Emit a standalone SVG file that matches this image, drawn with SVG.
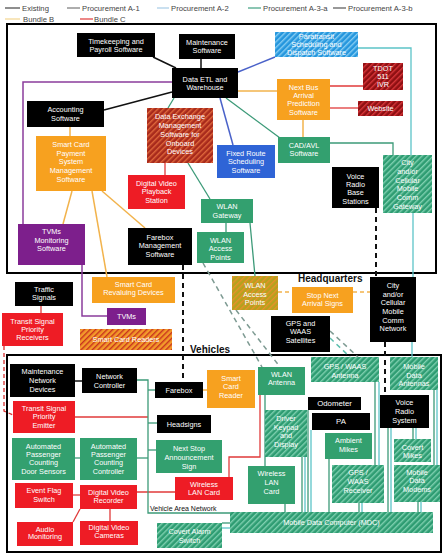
<svg xmlns="http://www.w3.org/2000/svg" width="444" height="555" viewBox="0 0 444 555">
<defs>
<pattern id="hT" width="4" height="4" patternUnits="userSpaceOnUse" patternTransform="rotate(45)"><rect width="4" height="4" fill="#2e9c72"/><rect width="1.4" height="4" fill="#7fd0b0"/></pattern>
<pattern id="hB" width="4" height="4" patternUnits="userSpaceOnUse" patternTransform="rotate(45)"><rect width="4" height="4" fill="#2596dd"/><rect width="1.4" height="4" fill="#86cdf3"/></pattern>
<pattern id="hR" width="4" height="4" patternUnits="userSpaceOnUse" patternTransform="rotate(45)"><rect width="4" height="4" fill="#8e0f12"/><rect width="1.4" height="4" fill="#d9363a"/></pattern>
<pattern id="hD" width="4" height="4" patternUnits="userSpaceOnUse" patternTransform="rotate(45)"><rect width="4" height="4" fill="#a82a1c"/><rect width="1.4" height="4" fill="#e0683c"/></pattern>
<pattern id="hY" width="4" height="4" patternUnits="userSpaceOnUse" patternTransform="rotate(45)"><rect width="4" height="4" fill="#b4a21e"/><rect width="1.4" height="4" fill="#e9902a"/></pattern>
<pattern id="hS" width="4" height="4" patternUnits="userSpaceOnUse" patternTransform="rotate(45)"><rect width="4" height="4" fill="#f39a2a"/><rect width="1.4" height="4" fill="#c8321e"/></pattern>
</defs>
<style>
.t{font-family:'Liberation Sans',Arial,sans-serif;font-size:7.3px;fill:#fff;text-anchor:middle}
.lg{font-family:'Liberation Sans',Arial,sans-serif;font-size:7.7px;fill:#444}
.hd{font-family:'Liberation Sans',Arial,sans-serif;font-size:10px;font-weight:bold;fill:#111}
.k{fill:#000}.o{fill:#f7a11f}.r{fill:#ee1c25}.g{fill:#33a06f}.b{fill:#2f64d6}.p{fill:#7d1f8c}
line,polyline{fill:none}
.ck{stroke:#111;stroke-width:1.5}
.cp{stroke:#8b3c9c;stroke-width:1.5}
.co{stroke:#f2b34c;stroke-width:1.5}
.cb{stroke:#4a62c9;stroke-width:1.5}
.cg{stroke:#3c9a78;stroke-width:1.3}
.cc{stroke:#5cc4c8;stroke-width:1.3}
.cr{stroke:#e03a3a;stroke-width:1.3}
.dk{stroke:#111;stroke-width:2;stroke-dasharray:5 4}
.dg{stroke:#7d9a92;stroke-width:1.5;stroke-dasharray:5 4}
.dt{stroke:#5cbfae;stroke-width:1.5;stroke-dasharray:5 4}
.do{stroke:#f2b34c;stroke-width:1.3;stroke-dasharray:4 3}
.dr{stroke:#d83030;stroke-width:1.3;stroke-dasharray:4 3}
</style>
<rect width="444" height="555" fill="#fff"/>
<g id="legend">
<line x1="5" y1="8" x2="20" y2="8" stroke="#444" stroke-width="1.2"/><text class="lg" x="22" y="10.5">Existing</text>
<line x1="67" y1="8" x2="80" y2="8" stroke="#777" stroke-width="1.2"/><text class="lg" x="82" y="10.5">Procurement A-1</text>
<line x1="157" y1="8" x2="169" y2="8" stroke="#a7cbe6" stroke-width="1.2"/><text class="lg" x="171" y="10.5">Procurement A-2</text>
<line x1="248" y1="8" x2="261" y2="8" stroke="#3f9f80" stroke-width="1.2"/><text class="lg" x="263" y="10.5">Procurement A-3-a</text>
<line x1="333" y1="8" x2="346" y2="8" stroke="#555" stroke-width="1.2"/><text class="lg" x="348" y="10.5">Procurement A-3-b</text>
<line x1="5" y1="19" x2="20" y2="19" stroke="#f3d58f" stroke-width="1.2"/><text class="lg" x="23" y="21.5">Bundle B</text>
<line x1="80" y1="19" x2="93" y2="19" stroke="#e03a3a" stroke-width="1.2"/><text class="lg" x="94" y="21.5">Bundle C</text>
</g>
<g id="frames">
<rect x="7" y="24" width="429" height="249" fill="none" stroke="#000" stroke-width="2"/>
<rect x="7" y="355" width="434" height="197" fill="none" stroke="#000" stroke-width="2"/>
<text class="hd" x="298" y="282">Headquarters</text>
<text class="hd" x="190" y="353">Vehicles</text>
</g>
<g id="connectors">
<line class="ck" x1="153" y1="57" x2="176" y2="68"/>
<line class="ck" x1="201" y1="59" x2="201" y2="68"/>
<line class="ck" x1="104" y1="110" x2="172" y2="92"/>
<line class="ck" x1="75" y1="381" x2="82" y2="381"/>
<line class="dk" x1="183" y1="265" x2="183" y2="382"/>
<line class="dk" x1="376" y1="208" x2="376" y2="277"/>
<line class="dk" x1="385" y1="342" x2="385" y2="395"/>
<polyline class="cp" points="172,82 23,82 23,224"/>
<polyline class="cp" points="82,265 82,316 107,316"/>
<line class="co" x1="70" y1="127" x2="70" y2="136"/>
<line class="co" x1="72" y1="191" x2="63" y2="224"/>
<line class="co" x1="92" y1="191" x2="107" y2="277"/>
<line class="co" x1="102" y1="191" x2="145" y2="228"/>
<line class="co" x1="238" y1="91" x2="277" y2="91"/>
<line class="co" x1="303" y1="120" x2="303" y2="137"/>
<line class="co" x1="203" y1="390" x2="207" y2="390"/>
<line class="do" x1="278" y1="292" x2="292" y2="292"/>
<line class="do" x1="353" y1="292" x2="370" y2="292"/>
<line class="cb" x1="238" y1="72" x2="275" y2="57"/>
<line class="cb" x1="220" y1="98" x2="233" y2="145"/>
<line class="cg" x1="226" y1="98" x2="280" y2="138"/>
<line class="cg" x1="174" y1="98" x2="168" y2="108"/>
<line class="cg" x1="188" y1="163" x2="210" y2="199"/>
<line class="cg" x1="226" y1="223" x2="226" y2="232"/>
<line class="cg" x1="250" y1="223" x2="255" y2="276"/>
<polyline class="cg" points="330,143 393,143 393,155"/>
<polyline class="cc" points="358,48 411,48 411,155"/>
<line class="cc" x1="413" y1="213" x2="413" y2="277"/>
<line class="cc" x1="412" y1="342" x2="412" y2="357"/>
<line class="cr" x1="330" y1="86" x2="363" y2="86"/>
<line class="cr" x1="330" y1="108" x2="358" y2="108"/>
<line class="cr" x1="165" y1="163" x2="165" y2="175"/>
<line class="cr" x1="41" y1="306" x2="41" y2="313"/>
<polyline class="dr" points="4,346 4,411 13,415"/>
<line class="cr" x1="75" y1="417" x2="148" y2="417"/>
<line class="cr" x1="73" y1="495" x2="80" y2="495"/>
<line class="cr" x1="137" y1="492" x2="175" y2="492"/>
<line class="cr" x1="80" y1="509" x2="73" y2="522"/>
<line class="cr" x1="110" y1="509" x2="110" y2="521"/>
<polyline class="cr" points="229,477 229,457 260,457 260,395"/>
<line class="dg" x1="203" y1="263" x2="262" y2="367"/>
<line class="dg" x1="236" y1="310" x2="280" y2="367"/>
<line class="dg" x1="330" y1="331" x2="358" y2="357"/>
<line class="dt" x1="330" y1="338" x2="350" y2="357"/>
<polyline class="cg" points="137,380 148,380 148,513 230,513"/>
<line class="cg" x1="148" y1="390" x2="155" y2="390"/>
<line class="cg" x1="148" y1="423" x2="157" y2="423"/>
<line class="cg" x1="148" y1="450" x2="156" y2="450"/>
<line class="cg" x1="75" y1="458" x2="80" y2="458"/>
<line class="cg" x1="137" y1="458" x2="148" y2="458"/>
<line class="cg" x1="222" y1="523" x2="230" y2="523"/>
<line class="cc" x1="222" y1="528" x2="230" y2="528"/>
<line class="cg" x1="265" y1="395" x2="265" y2="466"/>
<line class="cg" x1="285" y1="504" x2="285" y2="512"/>
<line class="cg" x1="302" y1="457" x2="302" y2="512"/>
<line class="cc" x1="305" y1="457" x2="305" y2="512"/>
<line class="cg" x1="308" y1="410" x2="308" y2="512"/>
<line class="cc" x1="311" y1="430" x2="311" y2="512"/>
<line class="cg" x1="329" y1="459" x2="329" y2="512"/>
<line class="cg" x1="359" y1="503" x2="359" y2="512"/>
<line class="cc" x1="362" y1="503" x2="362" y2="512"/>
<line class="cg" x1="375" y1="382" x2="375" y2="465"/>
<line class="cc" x1="379" y1="382" x2="379" y2="465"/>
<line class="cg" x1="388" y1="428" x2="388" y2="512"/>
<line class="cc" x1="391" y1="428" x2="391" y2="512"/>
<line class="cg" x1="413" y1="428" x2="413" y2="439"/>
<line class="cc" x1="416" y1="428" x2="416" y2="439"/>
<line class="cg" x1="418" y1="502" x2="418" y2="512"/>
<line class="cc" x1="421" y1="502" x2="421" y2="512"/>
<line class="cg" x1="434" y1="390" x2="434" y2="465"/>
<line class="cc" x1="437" y1="390" x2="437" y2="465"/>
</g>
<g id="timekeeping"><rect class="k" x="77" y="33" width="78" height="24"/><text class="t" x="116" y="43.5">Timekeeping and</text><text class="t" x="116" y="51.8">Payroll Software</text></g>
<g id="maintenance-sw"><rect class="k" x="179" y="34" width="56" height="25"/><text class="t" x="207" y="45">Maintenance</text><text class="t" x="207" y="53.3">Software</text></g>
<g id="data-etl"><rect class="k" x="172" y="68" width="66" height="30"/><text class="t" x="205" y="81.5">Data ETL and</text><text class="t" x="205" y="89.8">Warehouse</text></g>
<g id="paratransit"><rect fill="url(#hB)" x="275" y="32" width="83" height="25"/><text class="t" x="316.5" y="39.3">Paratransit</text><text class="t" x="316.5" y="47.1">Scheduling and</text><text class="t" x="316.5" y="54.9">Dispatch Software</text></g>
<g id="tdot"><rect fill="url(#hR)" x="363" y="63" width="40" height="27"/><text class="t" x="383" y="70.8">TDOT</text><text class="t" x="383" y="79.1">511</text><text class="t" x="383" y="87.4">IVR</text></g>
<g id="website"><rect fill="url(#hR)" x="358" y="101" width="45" height="15"/><text class="t" x="380.5" y="111.1">Website</text></g>
<g id="next-bus"><rect class="o" x="277" y="79" width="53" height="41"/><text class="t" x="303.5" y="89.6">Next Bus</text><text class="t" x="303.5" y="97.9">Arrival</text><text class="t" x="303.5" y="106.2">Prediction</text><text class="t" x="303.5" y="114.5">Software</text></g>
<g id="accounting"><rect class="k" x="27" y="101" width="77" height="26"/><text class="t" x="65.5" y="112.4">Accounting</text><text class="t" x="65.5" y="120.7">Software</text></g>
<g id="smartcard-payment"><rect class="o" x="36" y="136" width="70" height="55"/><text class="t" x="71" y="146.8">Smart Card</text><text class="t" x="71" y="155.5">Payment</text><text class="t" x="71" y="164.2">System</text><text class="t" x="71" y="172.9">Management</text><text class="t" x="71" y="181.6">Software</text></g>
<g id="data-exchange"><rect fill="url(#hD)" x="147" y="108" width="66" height="55"/><text class="t" x="180" y="119.3">Data Exchange</text><text class="t" x="180" y="128">Management</text><text class="t" x="180" y="136.8">Software for</text><text class="t" x="180" y="145.5">Onboard</text><text class="t" x="180" y="154.3">Devices</text></g>
<g id="fixed-route"><rect class="b" x="217" y="145" width="58" height="33"/><text class="t" x="246" y="155.9">Fixed Route</text><text class="t" x="246" y="164.3">Scheduling</text><text class="t" x="246" y="172.6">Software</text></g>
<g id="cad-avl"><rect class="g" x="278" y="137" width="52" height="26"/><text class="t" x="304" y="147.6">CAD/AVL</text><text class="t" x="304" y="156">Software</text></g>
<g id="dv-playback"><rect class="r" x="128" y="175" width="57" height="34"/><text class="t" x="156.5" y="186">Digital Video</text><text class="t" x="156.5" y="194.3">Playback</text><text class="t" x="156.5" y="202.6">Station</text></g>
<g id="voice-base"><rect class="k" x="332" y="167" width="47" height="41"/><text class="t" x="355.5" y="178.6">Voice</text><text class="t" x="355.5" y="187">Radio</text><text class="t" x="355.5" y="195.3">Base</text><text class="t" x="355.5" y="204">Stations</text></g>
<g id="city-gateway"><rect fill="url(#hT)" x="383" y="155" width="49" height="58"/><text class="t" x="407.5" y="165.3">City</text><text class="t" x="407.5" y="174">and/or</text><text class="t" x="407.5" y="182.7">Cellular</text><text class="t" x="407.5" y="191.4">Mobile</text><text class="t" x="407.5" y="200.1">Comm</text><text class="t" x="407.5" y="208.8">Gateway</text></g>
<g id="wlan-gateway"><rect class="g" x="201" y="199" width="52" height="24"/><text class="t" x="227" y="209.3">WLAN</text><text class="t" x="227" y="218">Gateway</text></g>
<g id="tvms-monitoring"><rect class="p" x="18" y="224" width="67" height="41"/><text class="t" x="51.5" y="234.3">TVMs</text><text class="t" x="51.5" y="242.7">Monitoring</text><text class="t" x="51.5" y="251.3">Software</text></g>
<g id="farebox-mgmt"><rect class="k" x="128" y="228" width="64" height="37"/><text class="t" x="160" y="240">Farebox</text><text class="t" x="160" y="248.3">Management</text><text class="t" x="160" y="256.6">Software</text></g>
<g id="wlan-ap-hq"><rect class="g" x="197" y="232" width="47" height="31"/><text class="t" x="220.5" y="242.6">WLAN</text><text class="t" x="220.5" y="251.3">Access</text><text class="t" x="220.5" y="260">Points</text></g>
<g id="traffic-signals"><rect class="k" x="15" y="282" width="58" height="24"/><text class="t" x="44" y="292">Traffic</text><text class="t" x="44" y="300">Signals</text></g>
<g id="tsp-receivers"><rect class="r" x="2" y="313" width="61" height="33"/><text class="t" x="32.5" y="323.6">Transit Signal</text><text class="t" x="32.5" y="332">Priority</text><text class="t" x="32.5" y="340.3">Receivers</text></g>
<g id="revaluing"><rect class="o" x="92" y="277" width="83" height="26"/><text class="t" x="133.5" y="286.6">Smart Card</text><text class="t" x="133.5" y="295.3">Revaluing Devices</text></g>
<g id="tvms"><rect class="p" x="107" y="308" width="39" height="17"/><text class="t" x="126.5" y="319">TVMs</text></g>
<g id="smartcard-readers"><rect fill="url(#hS)" x="80" y="329" width="92" height="21"/><text class="t" x="126" y="342">Smart Card Readers</text></g>
<g id="wlan-ap-bundle"><rect fill="url(#hY)" x="232" y="276" width="46" height="34"/><text class="t" x="255" y="287.6">WLAN</text><text class="t" x="255" y="296.6">Access</text><text class="t" x="255" y="305">Points</text></g>
<g id="stop-next"><rect class="o" x="292" y="287" width="61" height="26"/><text class="t" x="322.5" y="297.6">Stop Next</text><text class="t" x="322.5" y="306">Arrival Signs</text></g>
<g id="city-network"><rect class="k" x="370" y="277" width="46" height="65"/><text class="t" x="393" y="287.6">City</text><text class="t" x="393" y="296.5">and/or</text><text class="t" x="393" y="305.2">Cellular</text><text class="t" x="393" y="314.1">Mobile</text><text class="t" x="393" y="322.6">Comm</text><text class="t" x="393" y="331">Network</text></g>
<g id="gps-satellites"><rect class="k" x="271" y="316" width="59" height="36"/><text class="t" x="300.5" y="326">GPS and</text><text class="t" x="300.5" y="334.3">WAAS</text><text class="t" x="300.5" y="343">Satellites</text></g>
<g id="maint-network"><rect class="k" x="10" y="364" width="65" height="33"/><text class="t" x="42.5" y="374.3">Maintenance</text><text class="t" x="42.5" y="383.3">Network</text><text class="t" x="42.5" y="392">Devices</text></g>
<g id="network-controller"><rect class="k" x="82" y="368" width="55" height="25"/><text class="t" x="109.5" y="378.6">Network</text><text class="t" x="109.5" y="387.6">Controller</text></g>
<g id="farebox"><rect class="k" x="155" y="382" width="48" height="16"/><text class="t" x="179" y="392.6">Farebox</text></g>
<g id="smartcard-reader"><rect class="o" x="207" y="370" width="48" height="38"/><text class="t" x="231" y="381">Smart</text><text class="t" x="231" y="389.3">Card</text><text class="t" x="231" y="397.6">Reader</text></g>
<g id="wlan-antenna"><rect class="g" x="258" y="367" width="47" height="28"/><text class="t" x="281.5" y="376.6">WLAN</text><text class="t" x="281.5" y="385.3">Antenna</text></g>
<g id="gps-antenna"><rect fill="url(#hT)" x="311" y="357" width="68" height="25"/><text class="t" x="345" y="368.6">GPS / WAAS</text><text class="t" x="345" y="377.6">Antenna</text></g>
<g id="mobile-antennas"><rect fill="url(#hT)" x="390" y="357" width="48" height="33"/><text class="t" x="414" y="369.3">Mobile</text><text class="t" x="414" y="377.6">Data</text><text class="t" x="414" y="386">Antennas</text></g>
<g id="tsp-emitter"><rect class="r" x="13" y="401" width="62" height="32"/><text class="t" x="44" y="411">Transit Signal</text><text class="t" x="44" y="419.3">Priority</text><text class="t" x="44" y="427.6">Emitter</text></g>
<g id="headsigns"><rect class="k" x="157" y="415" width="54" height="18"/><text class="t" x="184" y="426.6">Headsigns</text></g>
<g id="odometer"><rect class="k" x="308" y="397" width="53" height="13"/><text class="t" x="334.5" y="406" style="font-size:7.8px">Odometer</text></g>
<g id="pa"><rect class="k" x="312" y="413" width="58" height="17"/><text class="t" x="341" y="424" style="font-size:7.8px">PA</text></g>
<g id="voice-radio"><rect class="k" x="380" y="395" width="49" height="33"/><text class="t" x="404.5" y="405.3">Voice</text><text class="t" x="404.5" y="414.3">Radio</text><text class="t" x="404.5" y="423.3">System</text></g>
<g id="driver-keypad"><rect fill="url(#hT)" x="265" y="410" width="42" height="47"/><text class="t" x="286" y="421">Driver</text><text class="t" x="286" y="429.6">Keypad</text><text class="t" x="286" y="438.2">and</text><text class="t" x="286" y="446.8">Display</text></g>
<g id="ambient-mikes"><rect class="g" x="325" y="433" width="47" height="26"/><text class="t" x="348.5" y="443.3">Ambient</text><text class="t" x="348.5" y="452">Mikes</text></g>
<g id="covert-mikes"><rect fill="url(#hT)" x="394" y="439" width="37" height="23"/><text class="t" x="412.5" y="450">Covert</text><text class="t" x="412.5" y="458.3">Mikes</text></g>
<g id="apc-door"><rect class="g" x="12" y="438" width="63" height="42"/><text class="t" x="43.5" y="448.6">Automated</text><text class="t" x="43.5" y="457">Passenger</text><text class="t" x="43.5" y="465.3">Counting</text><text class="t" x="43.5" y="473.6">Door Sensors</text></g>
<g id="apc-controller"><rect class="g" x="80" y="438" width="57" height="42"/><text class="t" x="108.5" y="448.6">Automated</text><text class="t" x="108.5" y="457">Passenger</text><text class="t" x="108.5" y="465.3">Counting</text><text class="t" x="108.5" y="473.6">Controller</text></g>
<g id="next-stop"><rect class="g" x="156" y="440" width="66" height="33"/><text class="t" x="189" y="451">Next Stop</text><text class="t" x="189" y="460.3">Announcement</text><text class="t" x="189" y="468.6">Sign</text></g>
<g id="wireless-lan-red"><rect class="r" x="175" y="477" width="58" height="23"/><text class="t" x="204" y="486.6">Wireless</text><text class="t" x="204" y="495">LAN Card</text></g>
<g id="wireless-lan-teal"><rect class="g" x="248" y="466" width="47" height="38"/><text class="t" x="271.5" y="476">Wireless</text><text class="t" x="271.5" y="485">LAN</text><text class="t" x="271.5" y="493.6">Card</text></g>
<g id="gps-receiver"><rect fill="url(#hT)" x="332" y="465" width="52" height="38"/><text class="t" x="358" y="475.3">GPS /</text><text class="t" x="358" y="484.3">WAAS</text><text class="t" x="358" y="492.6">Receiver</text></g>
<g id="modems"><rect fill="url(#hT)" x="394" y="465" width="46" height="37"/><text class="t" x="417" y="475.3">Mobile</text><text class="t" x="417" y="483.3">Data</text><text class="t" x="417" y="492">Modems</text></g>
<g id="event-flag"><rect class="r" x="15" y="483" width="58" height="25"/><text class="t" x="44" y="493.3">Event Flag</text><text class="t" x="44" y="501.6">Switch</text></g>
<g id="dvr"><rect class="r" x="80" y="485" width="57" height="24"/><text class="t" x="108.5" y="495">Digital Video</text><text class="t" x="108.5" y="503.3">Recorder</text></g>
<g id="audio"><rect class="r" x="17" y="522" width="56" height="24"/><text class="t" x="45" y="531.6">Audio</text><text class="t" x="45" y="539.3">Monitoring</text></g>
<g id="cameras"><rect class="r" x="80" y="521" width="58" height="24"/><text class="t" x="109" y="530">Digital Video</text><text class="t" x="109" y="538.3">Cameras</text></g>
<g id="covert-alarm"><rect fill="url(#hT)" x="157" y="523" width="65" height="25"/><text class="t" x="189.5" y="534.3">Covert Alarm</text><text class="t" x="189.5" y="542.6">Switch</text></g>
<g id="mdc"><rect fill="url(#hT)" x="230" y="512" width="203" height="21"/><text class="t" x="331.5" y="525">Mobile Data Computer (MDC)</text></g>
<text id="van-label" x="150" y="511" style="font-family:'Liberation Sans',Arial,sans-serif;font-size:7px;fill:#111">Vehicle Area Network</text>
</svg>
